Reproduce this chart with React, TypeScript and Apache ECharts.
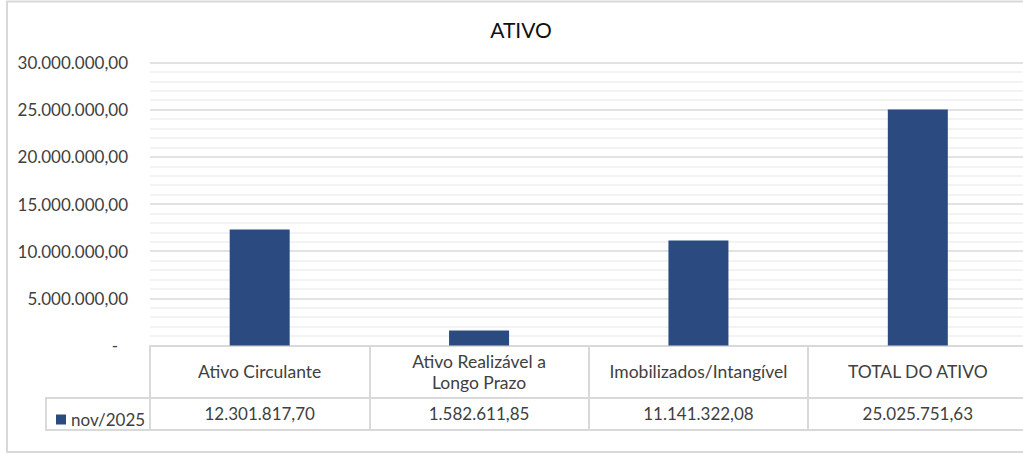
import React, { useEffect, useRef } from "react";
import * as echarts from "echarts";

const categories = [
  "Ativo Circulante",
  "Ativo Realizável a\nLongo Prazo",
  "Imobilizados/Intangível",
  "TOTAL DO ATIVO",
];
const seriesName = "nov/2025";
const values = [12301817.7, 1582611.85, 11141322.08, 25025751.63];
const yTicks = { min: 0, max: 30000000, interval: 5000000 };

function fmtBR(v: number): string {
  const neg = v < 0;
  const abs = Math.abs(v);
  const fixed = abs.toFixed(2);
  const [intPart, dec] = fixed.split(".");
  const withDots = intPart.replace(/\B(?=(\d{3})+(?!\d))/g, ".");
  return (neg ? "-" : "") + withDots + "," + dec;
}

const FONT = "Lato";
const TEXT = "#404040";
const BORDER = "#d9d9d9";
const W = 1034;

export default function App() {
  const ref = useRef<HTMLDivElement>(null);
  useEffect(() => {
    if (!ref.current) return;
    const chart = echarts.init(ref.current, undefined, { renderer: "svg" });
    chart.setOption({
      animation: false,
      backgroundColor: "#ffffff",
      title: {
        text: "ATIVO",
        left: 516,
        textAlign: "center",
        top: 14,
        textStyle: { fontFamily: FONT, fontSize: 21, fontWeight: "normal", color: "#111" },
      },
      legend: {
        data: [seriesName],
        left: 51,
        top: 406,
        itemWidth: 10,
        itemHeight: 10,
        icon: "rect",
        textStyle: { fontFamily: FONT, fontSize: 17, color: TEXT },
      },
      grid: { left: 150, right: W - 1027.5, top: 62.5, bottom: 108.5, containLabel: false },
      xAxis: [
        {
          type: "category",
          data: categories,
          position: "bottom",
          axisLine: { show: true, lineStyle: { color: BORDER, width: 2 } },
          axisTick: { show: true, length: 84, lineStyle: { color: BORDER, width: 2 } },
          axisLabel: {
            margin: 26,
            verticalAlign: "middle",
            fontFamily: FONT,
            fontSize: 17.5,
            lineHeight: 21,
            color: TEXT,
            interval: 0,
          },
          splitLine: { show: false },
        },
        {
          type: "category",
          data: categories,
          position: "bottom",
          axisLine: { show: false },
          axisTick: { show: false },
          axisLabel: {
            margin: 68,
            verticalAlign: "middle",
            fontFamily: FONT,
            fontSize: 17,
            color: TEXT,
            interval: 0,
            formatter: (_v: string, i: number) => fmtBR(values[i]),
          },
        },
      ],
      yAxis: {
        type: "value",
        min: yTicks.min,
        max: yTicks.max,
        interval: yTicks.interval,
        axisLine: { show: false },
        axisTick: { show: false },
        axisLabel: {
          margin: 22,
          fontFamily: FONT,
          fontSize: 17,
          color: TEXT,
          formatter: (v: number) => (v === 0 ? "{z|-}" : fmtBR(v)),
          rich: {
            z: { fontFamily: FONT, fontSize: 17, color: TEXT, padding: [0, 10, 0, 0] },
          },
        },
        splitLine: { show: true, lineStyle: { color: BORDER, width: 1.5 } },
        minorTick: { show: false, splitNumber: 5 },
        minorSplitLine: { show: true, lineStyle: { color: "#efefef", width: 1.5 } },
      },
      series: [
        {
          name: seriesName,
          type: "bar",
          data: values,
          barWidth: 60,
          itemStyle: { color: "#2b4a7f" },
          z: 3,
        },
      ],
      graphic: [
        {
          type: "rect",
          shape: { x: 7, y: 1.5, width: 1040, height: 450.5 },
          style: { fill: "none", stroke: BORDER, lineWidth: 2 },
          silent: true,
        },
        {
          type: "line",
          shape: { x1: 46, y1: 398, x2: 1040, y2: 398 },
          style: { stroke: BORDER, lineWidth: 2 },
          silent: true,
        },
        {
          type: "line",
          shape: { x1: 46, y1: 430, x2: 1040, y2: 430 },
          style: { stroke: BORDER, lineWidth: 2 },
          silent: true,
        },
        {
          type: "line",
          shape: { x1: 46, y1: 397, x2: 46, y2: 431 },
          style: { stroke: BORDER, lineWidth: 2 },
          silent: true,
        },
      ],
    });
    return () => chart.dispose();
  }, []);
  return (
    <div
      style={{
        position: "absolute",
        left: 0,
        top: 0,
        width: 1023,
        height: 454,
        overflow: "hidden",
      }}
    >
      <div ref={ref} style={{ width: W, height: 454 }} />
    </div>
  );
}
